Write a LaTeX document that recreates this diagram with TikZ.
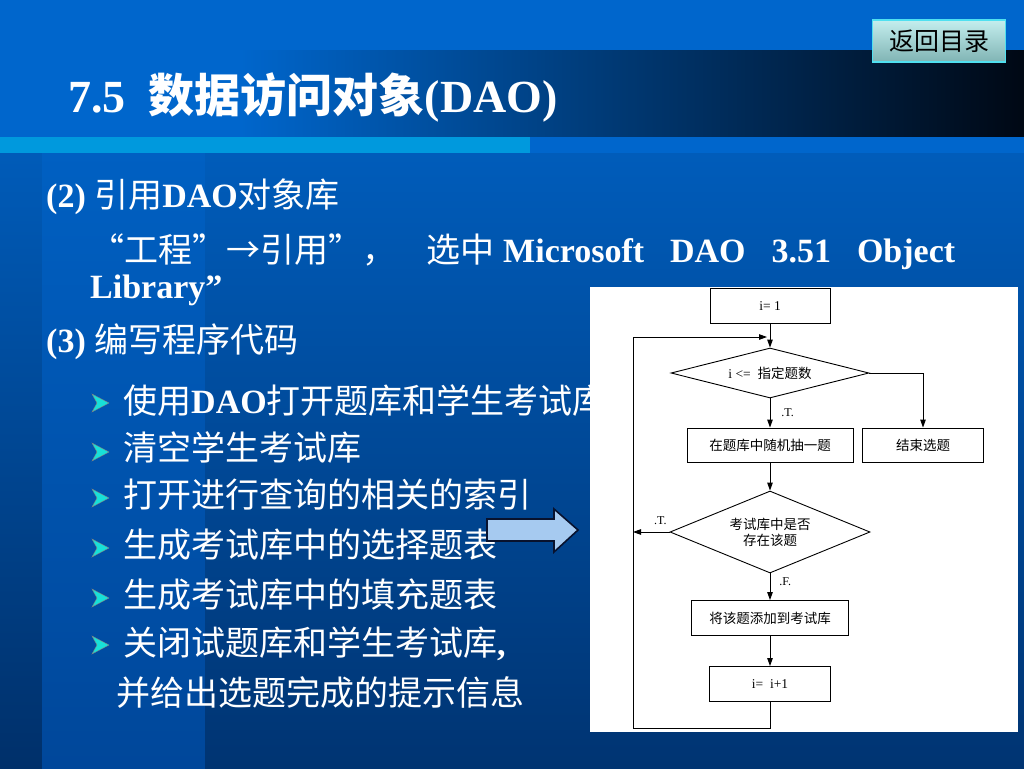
\documentclass[tikz,border=0pt]{standalone}
\usepackage{fontspec}
\usepackage{xcolor}
\setmainfont{Liberation Serif}
\newfontfamily\cjk{Noto Sans CJK SC}
\usetikzlibrary{shapes.geometric,arrows.meta,positioning}

\definecolor{slideblue}{HTML}{0066CC}
\definecolor{slidelow}{HTML}{003472}
\definecolor{bandlow}{HTML}{00479A}
\definecolor{edgelow}{HTML}{00306A}
\definecolor{titledark}{HTML}{000814}
\definecolor{titlemid}{HTML}{00387C}
\definecolor{stripe}{HTML}{0099DD}
\definecolor{bulletcyan}{HTML}{18E0D8}
\definecolor{btntop}{HTML}{C4EEEE}
\definecolor{btnlow}{HTML}{80B4B4}
\definecolor{btnline}{HTML}{50E0F0}
\definecolor{blockfill}{HTML}{A6CAF0}
\definecolor{blockline}{HTML}{08122E}

\newcommand\zh[1]{{\cjk\mdseries #1}}
\newcommand\flowfont{\fontsize{13.5}{16}\selectfont}

\begin{document}
\begin{tikzpicture}[x=1pt, y=-1pt,
    body/.style={anchor=base west, inner sep=0pt, text=white,
        font=\fontsize{34}{40}\selectfont\bfseries},
    box/.style={draw, line width=0.9pt, fill=white, inner sep=2pt,
        minimum height=35pt, font=\flowfont},
    test/.style={diamond, draw, line width=0.9pt, fill=white, inner sep=0pt,
        font=\flowfont},
    flow/.style={line width=0.9pt, -{Triangle[length=8pt,width=5.5pt]}},
    lbl/.style={inner sep=1pt, font=\fontsize{12}{13}\selectfont}]
\useasboundingbox (0,0) rectangle (1024,768);

% slide background
\shade[top color=slideblue, bottom color=edgelow] (0,0) rectangle (42,768);
\shade[top color=slideblue, bottom color=bandlow] (42,0) rectangle (205,768);
\shade[top color=slideblue, bottom color=slidelow] (205,0) rectangle (1024,768);
\fill[slideblue] (0,0) rectangle (1024,51);
\fill[slideblue] (0,51) rectangle (240,137);
\shade[left color=slideblue, middle color=titlemid, right color=titledark] (240,51) rectangle (1024,137);
\fill[slideblue] (0,137) rectangle (1024,153);
\fill[stripe] (0,137) rectangle (530,153);

% title and button
\node[anchor=base west, inner sep=0pt, text=white, font=\fontsize{46}{52}\selectfont\bfseries]
    (head) at (68,112) {7.5\ \ {\cjk 数据访问对象}(DAO)};
\node[draw=btnline, line width=1.2pt, top color=btntop, bottom color=btnlow,
    minimum width=133pt, minimum height=42pt, inner sep=0pt,
    font=\fontsize{25}{28}\selectfont] (back) at (939,41) {\zh{返回目录}};

% text
\node[body] (sec2) at (46,207) {(2) \zh{引用}DAO\zh{对象库}};
\node[body] (menu) at (90,262) {\hbox to 865pt{\zh{“工程”→引用”，}\hspace{30pt}\zh{选中}\hspace{9pt}Microsoft\hfill DAO\hfill 3.51\hfill Object}};
\node[body] (lib) at (90,298) {Library”};
\node[body] (sec3) at (46,352) {(3) \zh{编写程序代码}};
\node[body] (open) at (123,413) {\zh{使用}DAO\zh{打开题库和学生考试库}};
\node[body] (clear) at (123,460) {\zh{清空学生考试库}};
\node[body] (index) at (123,507) {\zh{打开进行查询的相关的索引}};
\node[body] (choice) at (123,557) {\zh{生成考试库中的选择题表}};
\node[body] (fill) at (123,607) {\zh{生成考试库中的填充题表}};
\node[body] (close) at (123,655) {\zh{关闭试题库和学生考试库},};
\node[body] (hint) at (116,705) {\zh{并给出选题完成的提示信息}};
\foreach \y in {403,452,498,548,598,645}
    \fill[bulletcyan, draw=black!50, line width=0.4pt] (92,\y-9) -- (109,\y) -- (92,\y+9) -- (97,\y) -- cycle;

\filldraw[fill=blockfill, draw=blockline, line width=1.6pt]
    (487,519) -- (554,519) -- (554,509) -- (578,530) -- (554,552) -- (554,541) -- (487,541) -- cycle;

% flowchart
\fill[white] (590,287) rectangle (1018,732);
\node[box, minimum width=120pt] (init) at (770,306) {i= 1};
\node[test, aspect=4, minimum width=198pt, minimum height=50pt] (cond) at (770,373) {i <=\ \ \zh{指定题数}};
\node[box, minimum width=166pt, minimum height=34pt] (pick) at (770,445) {\zh{在题库中随机抽一题}};
\node[box, minimum width=121pt, minimum height=34pt] (stop) at (923,445) {\zh{结束选题}};
\node[test, aspect=2.44, minimum width=200pt, minimum height=82pt, align=center] (exist) at (770,532) {\zh{考试库中是否}\\\zh{存在该题}};
\node[box, minimum width=157pt] (add) at (770,618) {\zh{将该题添加到考试库}};
\node[box, minimum width=121pt] (inc) at (770,684) {i=\ \ i+1};
\coordinate (low) at (633,728);
\coordinate (turn) at (633,337);
\coordinate (merge) at (767,337);

\draw[flow] (init) -- (cond);
\draw[flow] (cond) -- node[lbl, right=10pt] (yes1) {.T.} (pick);
\draw[flow] (cond.east) -| (stop);
\draw[flow] (pick) -- (exist);
\draw[flow] (exist.west) -- node[lbl, above=6pt, pos=0.25] (yes2) {.T.} (exist.west -| low);
\draw[flow] (exist) -- node[lbl, right=8pt, pos=0.3] (no2) {.F.} (add);
\draw[flow] (add) -- (inc);
\draw[flow] (inc) |- (low) -- (turn) -- (merge);
\end{tikzpicture}
\end{document}
